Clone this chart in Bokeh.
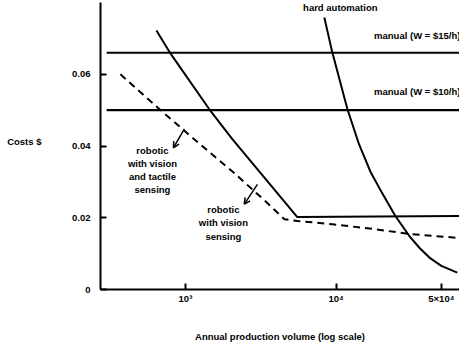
from bokeh.plotting import figure
from bokeh.models import Label, Arrow, OpenHead, FixedTicker, Range1d, LinearAxis
from bokeh.embed import file_html
from bokeh.resources import INLINE

# ---- data ----
x_ticks = [1000, 10000, 50000]
x_tick_labels = ["10³", "10⁴", "5×10⁴"]
y_ticks = [0, 0.02, 0.04, 0.06]
y_tick_labels = ["0", "0.02", "0.04", "0.06"]
y_title = "Costs $"

manual15_x = [300, 66000]
manual15_y = [0.066, 0.066]
manual10_x = [300, 66000]
manual10_y = [0.050, 0.050]

hard_x = [8360, 9440, 11890, 14200, 16880, 20270, 24750, 30670, 36000, 41660, 50000, 63800]
hard_y = [0.0758, 0.0661, 0.0503, 0.0405, 0.0329, 0.0268, 0.0205, 0.0149, 0.0115, 0.0089, 0.0066, 0.0047]

vision_x = [642, 795, 1437, 2042, 5530, 65800]
vision_y = [0.0722, 0.0658, 0.0503, 0.0420, 0.0202, 0.0205]

tactile_x = [370, 671, 1114, 2052, 3397, 4540, 5536, 9445, 17400, 30600, 63800]
tactile_y = [0.0600, 0.0503, 0.0423, 0.0329, 0.0246, 0.0196, 0.0191, 0.0182, 0.0169, 0.0155, 0.0144]

FONT = "Liberation Sans"
FS = "9.5px"

p = figure(width=459, height=344, x_axis_type="log",
           x_range=Range1d(273, 66000), y_range=Range1d(0, 0.08),
           output_backend="svg", toolbar_location=None,
           min_border_left=100, min_border_right=0, min_border_top=2, min_border_bottom=53)
p.outline_line_color = None
p.grid.visible = False
p.background_fill_color = "white"
p.border_fill_color = "white"

# lines
p.line(manual15_x, manual15_y, line_color="black", line_width=2.2)
p.line(manual10_x, manual10_y, line_color="black", line_width=2.2)
p.line(hard_x, hard_y, line_color="black", line_width=2)
p.line(vision_x, vision_y, line_color="black", line_width=2)
p.line(tactile_x, tactile_y, line_color="black", line_width=2, line_dash="7 5")

# axes
xa = p.xaxis[0]
xa.ticker = FixedTicker(ticks=x_ticks, minor_ticks=[])
xa.major_label_overrides = {t: l for t, l in zip(x_ticks, x_tick_labels)}
xa.axis_label = "Annual production volume (log scale)"
ya = p.yaxis[0]
ya.ticker = FixedTicker(ticks=y_ticks, minor_ticks=[])
ya.major_label_overrides = {t: l for t, l in zip(y_ticks, y_tick_labels)}
for ax in (xa, ya):
    ax.axis_line_width = 2
    ax.axis_line_color = "black"
    ax.major_tick_in = 6
    ax.major_tick_out = 0
    ax.major_tick_line_width = 2
    ax.minor_tick_in = 0
    ax.minor_tick_out = 0
    ax.major_label_text_font = FONT
    ax.major_label_text_font_style = "bold"
    ax.major_label_text_font_size = FS
    ax.major_label_text_color = "black"
    ax.axis_label_text_font = FONT
    ax.axis_label_text_font_style = "bold"
    ax.axis_label_text_font_size = FS
    ax.axis_label_text_color = "black"
xa.major_label_standoff = 3
xa.axis_label_standoff = 24
ya.major_label_standoff = 10

# horizontal y title via an outer, line-less axis
title_pos = 0.0412
ta = LinearAxis(ticker=FixedTicker(ticks=[title_pos], minor_ticks=[]),
                major_label_overrides={title_pos: y_title},
                axis_line_color=None, major_tick_line_color=None, minor_tick_line_color=None,
                major_label_standoff=22, major_label_text_font=FONT,
                major_label_text_font_style="bold", major_label_text_font_size=FS,
                major_label_text_color="black")
p.add_layout(ta, "left")


def lab(x, y, text, align="center", baseline="middle", **kw):
    p.add_layout(Label(x=x, y=y, text=text, text_align=align, text_baseline=baseline,
                       text_font=FONT, text_font_style="bold", text_font_size=FS,
                       text_color="black", text_line_height=1.2, **kw))


lab(10670, 0.0785, "hard automation")
lab(66900, 0.0708, "manual (W = $15/h)", align="right")
lab(66900, 0.0553, "manual (W = $10/h)", align="right")
lab(604, 0.0404, "robotic\nwith vision\nand tactile\nsensing", baseline="top")
lab(1787, 0.0238, "robotic\nwith vision\nsensing", baseline="top")

p.add_layout(Arrow(x_start=984, y_start=0.0448, x_end=832, y_end=0.0395,
                   line_width=1.5, end=OpenHead(size=6, line_width=1.5)))
p.add_layout(Arrow(x_start=3006, y_start=0.0293, x_end=2459, y_end=0.0238,
                   line_width=1.5, end=OpenHead(size=6, line_width=1.5)))

open("out.html", "w").write(file_html(p, INLINE))
